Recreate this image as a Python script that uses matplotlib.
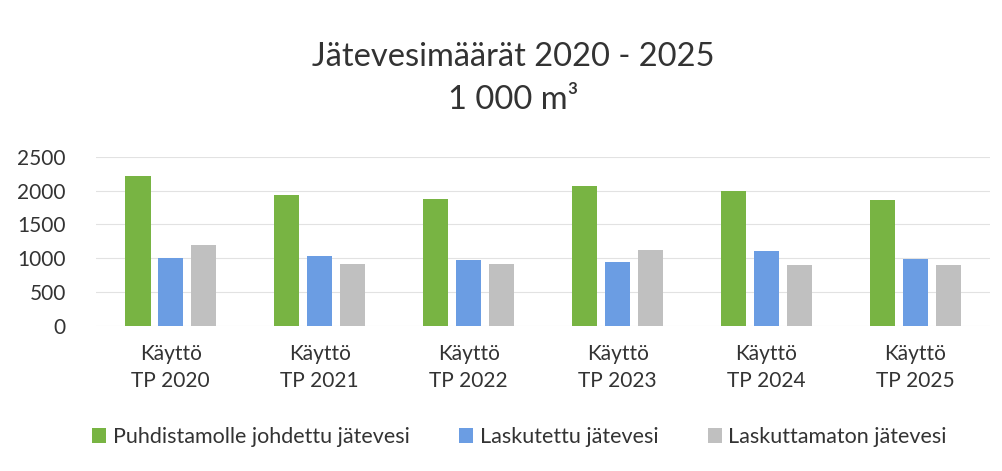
import numpy as np
import matplotlib
matplotlib.use("Agg")
import matplotlib.pyplot as plt

plt.rcParams['font.family'] = ['Lato', 'DejaVu Sans']

categories = ["Käyttö\nTP 2020", "Käyttö\nTP 2021", "Käyttö\nTP 2022",
              "Käyttö\nTP 2023", "Käyttö\nTP 2024", "Käyttö\nTP 2025"]
puhdistamolle = [2215, 1930, 1875, 2075, 2000, 1865]
laskutettu = [1010, 1030, 975, 945, 1110, 995]
laskuttamaton = [1200, 910, 915, 1130, 905, 905]
series_names = ["Puhdistamolle johdettu jätevesi", "Laskutettu jätevesi",
                "Laskuttamaton jätevesi"]
colors = ["#78b443", "#6b9de3", "#c0c0c0"]

fig = plt.figure(figsize=(10.03, 4.71), dpi=100)
ax = fig.add_axes([0.096, 0.308, 0.891, 0.359])

x = np.arange(len(categories))
w = 0.168
off = 0.22
for i, (vals, name, c) in enumerate(zip([puhdistamolle, laskutettu, laskuttamaton],
                                        series_names, colors)):
    ax.bar(x + (i - 1) * off, vals, width=w, color=c, label=name, zorder=3)

ax.set_xlim(-0.5, len(categories) - 0.5)
ax.set_ylim(0, 2500)
ax.set_yticks(range(0, 2501, 500))
ax.grid(axis='y', color='#e2e2e2', linewidth=0.8, zorder=0)
for s in ax.spines.values():
    s.set_visible(False)
ax.tick_params(axis='y', length=0, labelsize=15, pad=22, labelcolor='#333333')
ax.set_xticks(x)
ax.set_xticklabels(categories, fontsize=15, color='#333333', linespacing=1.45)
ax.tick_params(axis='x', length=0, pad=13)

fig.text(0.512, 0.880, "Jätevesimäärät 2020 - 2025", ha='center', va='center',
         fontsize=23.5, color='#333333')
fig.text(0.512, 0.788, "1 000 m³", ha='center', va='center',
         fontsize=23.5, color='#333333')

fig.legend(loc='center', bbox_to_anchor=(0.518, 0.072), ncol=3, frameon=False,
           fontsize=15.5, handlelength=0.65, handleheight=0.65, handletextpad=0.3,
           columnspacing=2.3, labelcolor='#333333')

fig.savefig("out.png", dpi=100, facecolor='white')
